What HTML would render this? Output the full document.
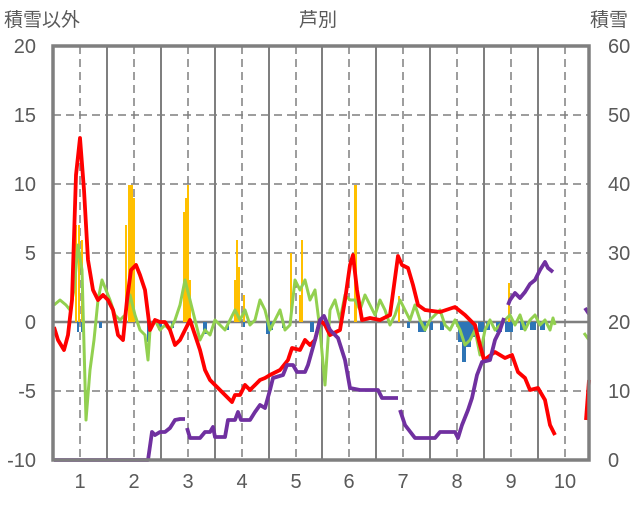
<!DOCTYPE html>
<html><head><meta charset="utf-8"><style>
body{margin:0;background:#fff;}
svg text{font-family:"Liberation Sans","Noto Sans CJK JP",sans-serif;fill:#595959;}
</style></head><body>
<svg width="636" height="501" viewBox="0 0 636 501" xmlns="http://www.w3.org/2000/svg">
<rect width="636" height="501" fill="#fff"/>
<g stroke="#7f7f7f" stroke-width="1.5" stroke-dasharray="8,5">
<line x1="53" x2="589" y1="115" y2="115"/>
<line x1="53" x2="589" y1="184" y2="184"/>
<line x1="53" x2="589" y1="253" y2="253"/>
<line x1="53" x2="589" y1="391" y2="391"/>
<line x1="80" x2="80" y1="46" y2="460"/>
<line x1="134" x2="134" y1="46" y2="460"/>
<line x1="188" x2="188" y1="46" y2="460"/>
<line x1="242" x2="242" y1="46" y2="460"/>
<line x1="296" x2="296" y1="46" y2="460"/>
<line x1="349" x2="349" y1="46" y2="460"/>
<line x1="403" x2="403" y1="46" y2="460"/>
<line x1="457" x2="457" y1="46" y2="460"/>
<line x1="511" x2="511" y1="46" y2="460"/>
<line x1="565" x2="565" y1="46" y2="460"/>
</g>
<g stroke="#7f7f7f" stroke-width="2">
<line x1="107" x2="107" y1="46" y2="460"/>
<line x1="161" x2="161" y1="46" y2="460"/>
<line x1="215" x2="215" y1="46" y2="460"/>
<line x1="269" x2="269" y1="46" y2="460"/>
<line x1="322" x2="322" y1="46" y2="460"/>
<line x1="376" x2="376" y1="46" y2="460"/>
<line x1="430" x2="430" y1="46" y2="460"/>
<line x1="484" x2="484" y1="46" y2="460"/>
<line x1="538" x2="538" y1="46" y2="460"/>
<line x1="53" x2="589" y1="322" y2="322" stroke-width="2.5"/>
</g>
<g fill="#FFC000">
<rect x="75" y="225" width="2" height="97"/><rect x="78" y="225" width="2" height="97"/><rect x="81" y="240" width="2" height="82"/>
<rect x="125" y="225" width="2" height="97"/><rect x="128" y="185" width="3" height="137"/><rect x="131" y="185" width="2" height="137"/><rect x="133" y="198" width="2" height="124"/>
<rect x="183" y="212" width="2" height="110"/><rect x="185" y="198" width="2" height="124"/><rect x="187" y="185" width="2" height="137"/><rect x="189" y="280" width="2" height="42"/>
<rect x="234" y="280" width="2" height="42"/><rect x="236" y="240" width="2" height="82"/><rect x="238" y="267" width="2" height="55"/><rect x="243" y="295" width="2" height="27"/>
<rect x="290" y="253" width="2" height="69"/><rect x="301" y="240" width="2" height="82"/><rect x="299" y="295" width="4" height="27"/>
<rect x="354" y="185" width="3" height="137"/>
<rect x="398" y="296" width="2" height="26"/>
<rect x="508" y="283" width="2" height="39"/>
</g>
<g fill="#2E75B6">
<rect x="77" y="322" width="2" height="10"/><rect x="81" y="322" width="2" height="10"/><rect x="99" y="322" width="3" height="6"/>
<rect x="147" y="322" width="3" height="20"/><rect x="158" y="322" width="4" height="8"/><rect x="171" y="322" width="3" height="6"/>
<rect x="203" y="322" width="4" height="12"/><rect x="227" y="322" width="2" height="8"/><rect x="243" y="322" width="2" height="5"/>
<rect x="266" y="322" width="4" height="12"/><rect x="270" y="322" width="3" height="8"/><rect x="282" y="322" width="3" height="6"/><rect x="310" y="322" width="4" height="10"/>
<rect x="407" y="322" width="3" height="6"/><rect x="418" y="322" width="8" height="10"/><rect x="430" y="322" width="3" height="8"/><rect x="440" y="322" width="4" height="8"/>
<rect x="458" y="322" width="4" height="20"/><rect x="462" y="322" width="4" height="40"/><rect x="466" y="322" width="5" height="25"/><rect x="471" y="322" width="4" height="15"/><rect x="478" y="322" width="6" height="10"/><rect x="486" y="322" width="4" height="8"/><rect x="496" y="322" width="6" height="10"/><rect x="505" y="322" width="8" height="10"/><rect x="520" y="322" width="6" height="8"/><rect x="530" y="322" width="6" height="8"/><rect x="540" y="322" width="5" height="8"/>
</g>
<g fill="none" stroke-width="3.8" stroke-linejoin="round">
<polyline stroke="#92D050" stroke-width="3" points="54,305 60,300 66,305 70,310 74,290 78,245 82,270 86,420 90,370 94,340 98,300 102,280 106,290 110,300 115,315 120,320 125,315 130,295 135,315 140,330 145,335 148,360 150,330 155,320 160,330 165,325 170,330 175,320 180,305 185,280 190,300 195,320 200,340 205,330 210,335 215,320 220,325 225,330 230,320 235,310 240,320 245,310 250,325 255,320 260,300 265,310 270,330 275,320 280,310 285,330 290,325 295,280 300,290 305,280 310,300 315,290 320,330 325,385 330,310 335,300 340,320 345,295 350,300 355,300 360,310 365,295 370,305 375,315 380,300 385,310 390,325 395,315 400,300 405,310 410,320 415,305 420,320 425,330 430,320 435,315 440,310 445,325 450,330 455,320 460,330 465,345 470,340 475,330 480,355 485,330 490,320 495,330 500,325 505,320 510,315 515,325 520,315 525,330 530,320 535,315 540,325 545,320 550,330 553,318 555,325"/>
<polyline stroke="#92D050" stroke-width="3" points="584,333 589,340"/>
<polyline stroke="#FF0000" points="54,327 58,340 64,350 68,335 72,300 76,175 80,138 84,190 88,260 93,290 98,300 103,295 108,300 113,310 118,335 123,340 127,300 131,270 136,265 140,275 145,290 150,330 155,320 160,322 165,322 170,330 175,345 180,340 185,330 190,320 195,335 200,350 205,370 210,380 215,385 220,390 225,395 232,402 235,395 240,395 245,385 250,390 255,385 260,380 265,378 270,375 280,370 288,360 292,348 300,350 305,340 310,345 315,340 320,320 325,325 330,335 340,330 345,300 350,265 353,255 357,290 362,320 370,318 380,320 390,315 398,256 402,265 408,268 413,285 418,305 425,310 440,312 455,307 465,315 475,325 480,345 484,360 495,352 505,358 512,355 518,372 525,378 530,390 538,388 545,400 550,425 555,435"/>
<polyline stroke="#FF0000" points="586,420 589,380"/>
<g stroke="#7030A0">
<polyline points="54,460 148,460 152,432 155,435 160,432 165,432 170,428 175,420 180,419 185,419"/>
<polyline points="187,428 190,438 200,438 205,432 210,432 213,427 215,437 225,437 228,420 235,420 238,412 241,420 250,420 255,412 260,405 265,408 270,390 273,378 283,375 287,365 293,365 297,372 305,372 308,365 315,340 320,320 324,316 330,330 338,338 345,360 350,388 360,390 378,390 382,398 398,398"/>
<polyline points="400,410 405,425 415,438 435,438 440,432 455,432 458,438 462,425 468,410 472,398 477,375 482,362 490,360 495,340 500,330 504,318"/>
<polyline points="508,305 510,300 515,293 520,298 525,292 530,284 535,280 540,270 545,262 548,268 553,272"/>
<polyline points="585,308 589,314"/>
</g>
</g>
<rect x="53" y="46" width="536" height="414" fill="none" stroke="#7f7f7f" stroke-width="3.5"/>
<g font-size="20" text-anchor="end">
<text x="36" y="53">20</text><text x="36" y="122">15</text><text x="36" y="191">10</text><text x="36" y="260">5</text><text x="36" y="329">0</text><text x="36" y="398">-5</text><text x="36" y="467">-10</text>
</g>
<g font-size="20" text-anchor="start">
<text x="608" y="53">60</text><text x="608" y="122">50</text><text x="608" y="191">40</text><text x="608" y="260">30</text><text x="608" y="329">20</text><text x="608" y="398">10</text><text x="608" y="467">0</text>
</g>
<g font-size="20" text-anchor="middle">
<text x="80" y="488">1</text><text x="134" y="488">2</text><text x="188" y="488">3</text><text x="242" y="488">4</text><text x="296" y="488">5</text><text x="349" y="488">6</text><text x="403" y="488">7</text><text x="457" y="488">8</text><text x="511" y="488">9</text><text x="565" y="488">10</text>
</g>
<text x="4" y="26" font-size="19">積雪以外</text>
<text x="318" y="26" font-size="19" text-anchor="middle">芦別</text>
<text x="590" y="26" font-size="19">積雪</text>
</svg>
</body></html>
